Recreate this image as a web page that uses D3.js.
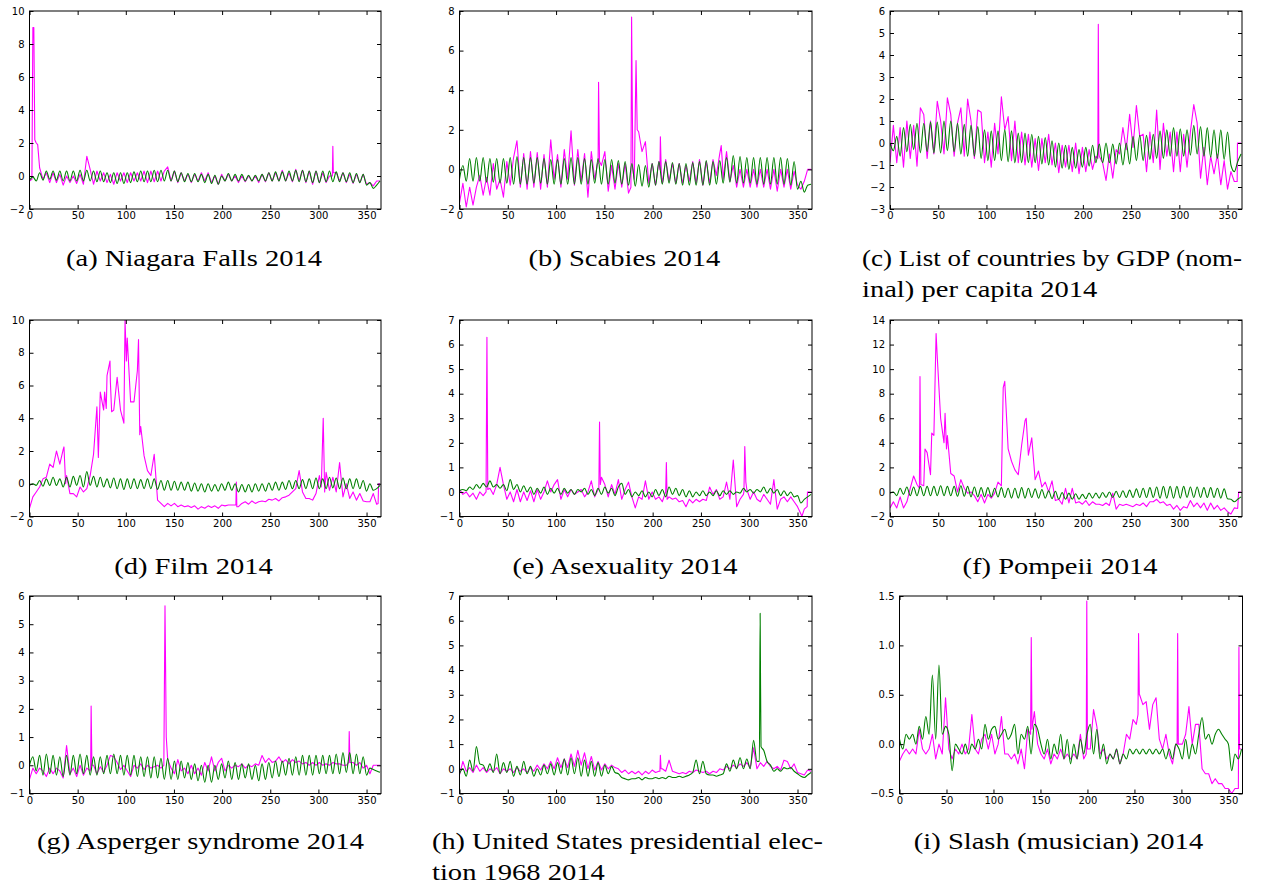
<!DOCTYPE html>
<html><head><meta charset="utf-8">
<script src="https://cdn.jsdelivr.net/npm/d3@7"></script>
<style>body{margin:0;background:#fff;}svg{display:block;}</style>
</head><body>
<svg id="chart" width="1263" height="884"></svg>
<script>
// ---- DATA (base arrays span day 0..364 evenly) ----
const xTicks = [0, 50, 100, 150, 200, 250, 300, 350];
const xDomain = [0, 365];

const magA = [-0.3,9.0,2.0,0.5,-0.2,0.2,-0.4,0.2,-0.4,0.1,
 -0.55,0.0,-0.4,0.0,-0.45,0.1,-0.5,1.2,0.4,-0.5,
 0.3,-0.3,0.2,-0.4,0.1,-0.5,0.2,-0.3,0.2,-0.4,
 0.2,-0.3,0.2,-0.3,0.3,-0.4,0.3,-0.35,0.3,-0.3,
 0.3,0.55,-0.3,0.3,-0.4,0.2,-0.3,0.1,-0.4,0.1,
 -0.3,0.2,-0.3,0.2,-0.4,0.0,-0.5,0.1,-0.3,0.1,
 -0.3,0.0,-0.4,0.0,-0.35,0.0,-0.3,0.0,-0.4,0.1,
 -0.35,0.2,-0.3,0.2,-0.3,0.35,-0.3,0.2,-0.35,0.4,
 -0.3,0.35,-0.4,0.3,-0.5,0.3,-0.4,0.2,-0.4,0.0,
 1.8,0.2,-0.3,0.2,-0.4,0.1,-0.45,0.1,-0.4,0.1,
 -0.5,-0.4,-0.6,-0.3,-0.3];
const magAPeaks = [[2.5,-0.2],[4.5,9.0],[5.5,2.2],[8.5,1.9],[314.5,0.0],[315.5,0.2]];
const grnA = [-0.25,-0.05,-0.3,0.2,-0.25,0.3,-0.2,0.3,-0.25,0.3,
 -0.3,0.3,-0.3,0.3,-0.3,0.35,-0.3,0.35,-0.3,0.3,
 -0.35,0.3,-0.35,0.2,-0.4,0.2,-0.45,0.2,-0.45,0.2,
 -0.4,0.25,-0.35,0.3,-0.35,0.3,-0.35,0.35,-0.35,0.35,
 -0.3,0.35,-0.3,0.3,-0.35,0.2,-0.35,0.15,-0.35,0.15,
 -0.35,0.1,-0.4,0.1,-0.45,0.05,-0.5,0.0,-0.3,0.15,
 -0.3,0.1,-0.3,0.1,-0.3,0.05,-0.3,0.05,-0.3,0.1,
 -0.3,0.2,-0.3,0.25,-0.3,0.25,-0.3,0.3,-0.3,0.35,
 -0.35,0.35,-0.35,0.3,-0.4,0.3,-0.4,0.3,-0.35,0.3,
 -0.35,0.25,-0.35,0.2,-0.35,0.2,-0.4,0.15,-0.4,0.1,
 -0.55,-0.4,-0.75,-0.55,-0.3];

const magB = [-1.7,-0.7,-1.9,-0.9,-1.8,-0.9,-0.3,-1.3,-0.4,-1.3,
 0.3,-1.0,-0.5,-1.4,0.4,-0.8,0.6,1.45,-0.9,0.8,
 -1.0,0.9,-0.9,0.85,-1.0,0.75,-0.9,1.5,-0.5,0.75,
 -0.9,1.0,-0.5,1.95,-0.8,1.0,-0.6,0.8,-1.4,0.9,
 -0.5,0.3,0.2,0.9,-1.1,0.2,-1.0,0.3,-0.9,0.3,
 -1.2,5.9,2.8,1.9,0.9,1.4,-0.7,0.3,-0.8,0.4,
 -0.7,0.5,-0.6,0.3,-0.7,0.3,-0.7,0.2,-0.6,0.4,
 -0.7,0.5,-0.8,0.4,-0.7,0.5,-0.3,0.8,-0.5,0.9,
 -0.6,0.2,-0.9,0.0,-0.9,0.0,-0.9,0.0,-0.9,0.0,
 -0.9,0.0,-1.0,0.0,-1.1,0.0,-0.9,0.0,-1.0,-0.1,
 -0.8,-1.0,-0.6,0.0,0.0];
const magBPeaks = [[143,0.3],[144,4.4],[145,0.4],[177.5,-0.9],[178.2,7.7],[179.5,0.0],[181,-0.5],[182.8,5.5],[184,2.0],[207.5,0.0],[208,1.65],[209,-0.2],[271,1.2],[272,0.5]];
const grnB = [-0.5,0.2,-0.6,0.55,-0.6,0.6,-0.6,0.6,-0.65,0.55,
 -0.65,0.55,-0.7,0.55,-0.7,0.6,-0.75,0.65,-0.75,0.6,
 -0.75,0.6,-0.7,0.6,-0.7,0.55,-0.75,0.5,-0.75,0.5,
 -0.75,0.55,-0.75,0.6,-0.75,0.6,-0.75,0.55,-0.75,0.5,
 -0.7,0.55,-0.75,0.5,-0.75,0.5,-0.7,0.45,-0.75,0.4,
 -0.8,0.3,-0.85,0.25,-0.85,0.2,-0.9,0.3,-0.8,0.4,
 -0.75,0.4,-0.7,0.35,-0.75,0.3,-0.8,0.3,-0.8,0.35,
 -0.8,0.4,-0.8,0.45,-0.8,0.4,-0.75,0.45,-0.7,0.6,
 -0.65,0.7,-0.7,0.65,-0.7,0.6,-0.7,0.6,-0.75,0.6,
 -0.75,0.6,-0.75,0.6,-0.75,0.6,-0.75,0.55,-0.8,0.4,
 -1.0,-0.6,-1.15,-0.8,-0.75];

const magC = [-0.9,0.8,-0.9,0.7,-1.1,1.0,-0.7,0.8,-1.05,1.6,
 1.3,-0.7,1.0,-0.5,1.9,1.0,-0.5,2.05,1.3,-0.6,
 0.9,1.6,-0.6,2.0,1.0,-0.7,1.5,1.4,-0.9,0.5,
 -1.1,0.9,-0.5,2.1,0.6,1.2,-0.8,1.0,-0.9,0.5,
 -1.0,0.4,-1.1,0.2,-1.25,0.2,-0.9,0.4,-1.0,0.0,
 -1.35,-0.1,-1.1,-0.1,-1.3,0.0,-1.4,-0.2,-1.3,-0.3,
 -1.2,-0.6,-0.6,-0.9,-1.7,-0.5,-1.6,-0.3,-0.5,0.7,
 -0.3,1.3,-0.2,1.7,0.3,0.4,-1.3,0.5,-0.9,1.5,
 -1.2,0.9,-0.6,0.5,-1.3,0.5,-1.3,0.4,-1.1,0.5,
 1.75,0.9,-1.6,-0.2,-1.9,-0.6,-1.4,-0.5,-1.9,-0.8,
 -2.1,-1.3,-1.75,0.0,0.0];
const magCPeaks = [[215.5,-0.7],[216,5.4],[216.6,-0.5],[360,-1.75],[360.3,0.0]];
const grnC = [0.0,-0.35,0.3,-0.6,0.7,-0.4,0.85,-0.3,0.9,-0.45,
 0.9,-0.4,0.95,-0.45,0.95,-0.45,1.0,-0.35,1.0,-0.4,
 0.9,-0.5,0.85,-0.6,0.8,-0.6,0.75,-0.7,0.6,-0.8,
 0.55,-0.8,0.55,-0.8,0.6,-0.85,0.55,-0.9,0.45,-0.9,
 0.45,-0.9,0.4,-0.9,0.3,-0.95,0.25,-1.0,0.1,-1.1,
 0.0,-1.15,-0.1,-1.2,-0.2,-1.15,-0.3,-1.1,-0.2,-1.05,
 -0.1,-0.9,-0.05,-0.9,0.0,-0.9,-0.05,-0.95,0.0,-1.0,
 0.0,-0.95,0.3,-0.8,0.35,-0.8,0.35,-0.75,0.4,-0.7,
 0.55,-0.7,0.6,-0.6,0.7,-0.6,0.65,-0.6,0.6,-0.55,
 0.8,-0.5,0.75,-0.6,0.7,-0.65,0.6,-0.7,0.6,-0.75,
 0.5,-1.0,-1.3,-0.85,-0.5];

const magD = [-1.5,-0.8,-0.5,-0.2,0.3,0.4,1.2,1.0,2.0,1.2,
 2.1,0.5,-0.6,-0.6,-0.8,-0.2,-0.5,-0.3,0.5,1.8,
 4.7,5.6,4.5,6.6,6.2,4.5,6.5,4.5,3.7,8.9,
 5.0,5.0,6.9,3.5,1.7,0.8,0.5,1.8,-1.0,-1.2,
 -1.4,-1.2,-1.35,-1.2,-1.4,-1.3,-1.4,-1.35,-1.45,-1.35,
 -1.55,-1.4,-1.5,-1.35,-1.45,-1.35,-1.5,-1.3,-1.35,-1.3,
 -1.3,-1.3,-1.4,-1.2,-1.1,-1.25,-1.05,-1.2,-1.1,-1.05,
 -1.1,-0.95,-1.0,-0.9,-1.05,-0.85,-0.8,-0.7,-0.5,-0.3,
 0.8,-0.5,-0.9,-0.9,-1.0,-0.6,0.5,3.0,0.7,-0.4,
 0.4,-0.5,1.3,-0.8,0.0,-0.9,-0.5,-1.0,-0.6,-1.05,
 -1.1,-1.1,-0.6,-1.25,0.0];
const magDPeaks = [[35.8,2.25],[37.5,0.0],[71.5,1.6],[78,5.6],[79.7,4.6],[83.6,7.5],[85.3,4.4],[99.2,10.0],[100.6,7.5],[113.2,8.8],[114.5,3.0],[214.3,-1.3],[214.8,0.1],[215.3,-1.4],[303,-0.2],[305,4.0],[306.5,-0.5],[362,-1.2],[362.5,0.0]];
const grnD = [-0.1,0.0,-0.1,0.2,-0.15,0.3,-0.1,0.4,-0.1,0.3,
 -0.2,0.4,-0.2,0.45,-0.1,0.5,-0.2,0.75,-0.1,0.45,
 -0.2,0.4,-0.2,0.3,-0.25,0.35,-0.3,0.3,-0.35,0.3,
 -0.3,0.3,-0.3,0.25,-0.3,0.3,-0.3,0.3,-0.35,0.2,
 -0.4,0.2,-0.4,0.15,-0.4,0.1,-0.4,0.1,-0.45,0.05,
 -0.45,0.0,-0.5,0.0,-0.45,-0.05,-0.45,0.0,-0.4,0.1,
 -0.4,0.0,-0.5,-0.05,-0.5,-0.05,-0.5,0.0,-0.45,0.0,
 -0.45,0.05,-0.4,0.1,-0.4,0.1,-0.35,0.2,-0.3,0.2,
 -0.3,0.25,-0.3,0.3,-0.3,0.35,-0.3,0.3,-0.3,0.4,
 -0.25,0.35,-0.3,0.35,-0.3,0.3,-0.3,0.3,-0.3,0.2,
 -0.45,0.0,-0.4,-0.3,-0.1];

const magE = [0.1,-0.1,0.0,-0.2,-0.05,-0.3,0.0,-0.15,3.5,0.15,
 -0.1,0.3,1.0,0.3,-0.3,0.0,-0.4,0.1,-0.4,0.0,
 -0.35,0.05,-0.4,0.1,-0.3,0.0,0.45,0.0,0.3,0.5,
 -0.3,0.1,-0.2,0.1,-0.1,0.0,0.1,-0.2,0.0,0.45,
 -0.2,0.1,0.6,0.3,-0.2,0.3,-0.1,0.5,-0.3,0.1,
 0.4,-0.2,-0.65,-0.2,-0.3,0.45,-0.3,0.0,-0.3,-0.2,
 -0.4,0.0,-0.2,-0.3,-0.25,-0.4,-0.35,-0.6,-0.3,-0.45,
 -0.3,-0.4,-0.3,-0.35,0.2,-0.1,0.1,-0.3,-0.2,0.4,
 -0.3,1.3,-0.6,-0.3,-0.1,0.1,-0.3,0.0,-0.3,-0.4,
 -0.1,-0.3,-0.5,0.5,-0.7,-0.3,-0.2,-0.4,-0.2,-0.4,
 -0.6,-0.9,-0.7,0.0,0.0];
const magEPeaks = [[27.5,0.0],[28.4,6.3],[29.3,0.1],[144.3,0.1],[145,2.85],[145.8,0.3],[213.5,0.0],[214.2,1.2],[215,-0.3],[294.5,0.0],[295.4,1.85],[296.5,0.4],[354.5,-1.0],[360,-0.6],[360.3,0.0]];
const grnE = [0.05,0.1,0.05,0.2,0.1,0.3,0.15,0.35,0.2,0.45,
 0.2,0.3,0.15,0.3,0.05,0.5,0.1,0.3,0.0,0.25,
 0.0,0.2,-0.1,0.15,-0.05,0.2,-0.1,0.15,-0.05,0.15,
 -0.1,0.15,-0.05,0.1,-0.1,0.1,0.0,0.15,-0.1,0.1,
 -0.15,0.15,-0.1,0.2,-0.05,0.15,-0.15,0.2,0.35,-0.1,
 0.1,-0.2,0.0,-0.15,0.05,-0.2,0.0,-0.2,0.1,-0.15,
 0.1,-0.2,0.2,-0.1,0.15,-0.15,0.1,-0.2,0.05,-0.2,
 0.0,-0.15,0.05,-0.15,0.0,-0.15,0.05,-0.15,0.05,-0.1,
 0.05,-0.1,0.0,-0.05,0.15,0.0,0.1,-0.05,0.1,0.0,
 0.2,-0.05,0.15,-0.05,0.1,-0.15,0.05,-0.15,0.0,-0.2,
 -0.15,-0.45,-0.3,-0.2,-0.1];

const magF = [-1.3,-0.8,-1.3,-0.4,-1.3,-0.8,0.3,1.3,0.6,5.5,
 0.5,3.2,1.4,4.6,11.0,6.0,4.0,4.6,1.5,1.3,
 0.0,1.0,0.3,-0.1,0.0,-0.3,-0.8,-0.2,-0.9,-0.2,
 -0.5,-0.1,0.8,0.5,9.0,3.5,2.5,1.8,1.4,3.8,
 5.8,3.0,4.4,1.0,1.7,0.4,0.8,0.0,0.9,-0.7,
 -0.6,-1.0,0.3,-0.9,0.3,-0.9,-0.8,-1.0,-0.7,-1.1,
 -0.8,-1.0,-1.0,-1.1,-0.9,-1.1,-0.1,-1.4,-1.0,-1.1,
 -1.0,-1.1,-1.2,-1.0,-1.1,-0.9,-1.2,-0.8,-0.8,-0.6,
 -0.9,-0.8,-1.1,-1.0,-1.4,-1.1,-1.5,-1.2,-1.3,-0.7,
 -1.2,-0.9,-1.3,-0.9,-1.5,-0.9,-1.4,-1.1,-1.5,-1.3,
 -1.6,-1.8,-1.3,-1.35,0.0];
const magFPeaks = [[30.5,0.3],[31.1,9.4],[32,0.6],[36.3,3.5],[43.3,4.8],[47.8,12.9],[57.1,6.4],[58.6,3.5],[117.4,8.5],[141.2,6.0],[361.5,0.0]];
const grnF = [-0.1,0.0,-0.3,0.3,-0.2,0.4,-0.3,0.4,-0.3,0.45,
 -0.3,0.45,-0.3,0.45,-0.3,0.5,-0.3,0.45,-0.3,0.45,
 -0.35,0.5,-0.35,0.45,-0.4,0.4,-0.4,0.35,-0.4,0.35,
 -0.4,0.3,-0.4,0.35,-0.45,0.3,-0.5,0.3,-0.5,0.35,
 -0.5,0.3,-0.45,0.25,-0.5,0.2,-0.5,0.1,-0.55,0.05,
 -0.6,-0.05,-0.6,-0.1,-0.6,-0.15,-0.6,-0.2,-0.55,-0.1,
 -0.5,-0.1,-0.5,-0.05,-0.45,0.0,-0.45,0.05,-0.45,0.1,
 -0.45,0.15,-0.45,0.25,-0.45,0.3,-0.45,0.35,-0.45,0.4,
 -0.5,0.45,-0.5,0.45,-0.5,0.45,-0.5,0.45,-0.45,0.4,
 -0.45,0.4,-0.45,0.35,-0.45,0.35,-0.45,0.3,-0.5,0.25,
 -0.55,-0.6,-0.8,-0.6,-0.4];

const magG = [-0.5,-0.1,-0.3,-0.1,-0.2,-0.4,-0.1,-0.3,-0.1,-0.2,
 -0.45,0.7,-0.3,-0.1,-0.4,0.0,-0.35,-0.1,-0.2,0.0,
 -0.3,-0.05,-0.25,0.0,0.35,0.3,0.1,-0.15,0.0,-0.2,
 -0.4,0.0,-0.1,0.05,-0.15,0.0,-0.1,-0.05,0.0,-0.1,
 2.4,0.2,-0.1,-0.3,0.2,-0.2,-0.1,-0.3,0.0,-0.3,
 -0.1,-0.35,0.1,-0.2,0.3,-0.2,0.1,0.25,-0.2,0.0,
 -0.1,0.0,-0.05,0.05,-0.1,0.0,-0.05,0.05,0.0,0.35,
 0.1,0.25,0.1,0.15,0.3,0.1,0.2,0.05,0.2,0.1,
 0.15,0.05,0.1,0.0,0.1,0.0,0.1,0.0,0.05,0.0,
 0.1,0.05,0.05,0.0,0.0,0.5,0.1,0.0,0.1,-0.1,
 0.0,-0.3,0.0,0.0,0.0];
const magGPeaks = [[63.5,-0.1],[64,2.1],[64.8,0.0],[139.5,0.0],[140.7,5.65],[142,1.0],[331.5,0.1],[332,1.2],[332.8,0.1]];
const grnG = [0.0,0.3,-0.2,0.35,-0.35,0.4,-0.3,0.35,-0.35,0.3,
 -0.4,0.35,-0.35,0.35,-0.3,0.4,-0.3,0.35,-0.35,0.3,
 -0.35,0.3,-0.3,0.35,-0.3,0.4,-0.3,0.35,-0.35,0.35,
 -0.35,0.35,-0.4,0.3,-0.4,0.3,-0.45,0.3,-0.45,0.25,
 -0.5,0.25,-0.5,0.15,-0.5,0.15,-0.45,0.1,-0.5,0.05,
 -0.55,0.0,-0.6,0.0,-0.6,0.0,-0.5,0.05,-0.45,0.15,
 -0.5,0.1,-0.5,0.05,-0.45,0.05,-0.5,0.0,-0.55,0.05,
 -0.5,0.1,-0.45,0.15,-0.4,0.15,-0.35,0.25,-0.35,0.3,
 -0.35,0.35,-0.35,0.35,-0.35,0.35,-0.3,0.35,-0.3,0.35,
 -0.3,0.4,-0.3,0.45,-0.25,0.45,-0.3,0.4,-0.3,0.3,
 -0.35,-0.1,-0.15,-0.2,-0.25];

const magH = [-0.25,0.3,-0.1,0.05,-0.15,0.15,-0.1,0.05,-0.15,0.0,
 -0.1,0.05,-0.2,0.0,-0.1,0.0,-0.15,0.05,-0.1,0.0,
 -0.15,0.05,-0.1,0.15,-0.05,0.2,0.0,0.3,0.0,0.45,
 0.05,0.4,0.05,0.6,0.1,0.75,0.15,0.65,0.0,0.5,
 -0.05,0.3,-0.05,0.2,0.0,0.15,0.05,0.0,-0.15,-0.05,
 -0.2,-0.1,-0.2,-0.1,-0.25,-0.1,-0.2,-0.05,-0.15,-0.1,
 0.0,-0.1,0.35,-0.1,-0.15,-0.2,-0.15,-0.2,-0.1,-0.15,
 -0.05,-0.1,-0.15,-0.1,-0.2,-0.1,-0.15,0.0,-0.05,0.1,
 0.0,0.15,0.05,0.2,0.1,0.25,0.05,0.85,0.0,0.25,
 0.1,0.3,0.1,0.0,0.1,-0.05,0.35,0.3,0.0,0.2,
 -0.15,-0.2,-0.25,-0.05,-0.1];
const magHPeaks = [[207.5,-0.1],[208,0.55],[208.7,0.0]];
const grnH = [-0.2,0.0,-0.3,0.35,-0.1,0.9,0.2,0.15,-0.1,0.2,
 -0.15,0.6,-0.2,0.25,-0.15,0.3,-0.3,0.1,-0.25,0.3,
 -0.2,0.1,-0.3,0.0,-0.25,0.15,-0.2,0.2,-0.25,0.25,
 -0.2,0.4,-0.25,0.45,-0.2,0.45,-0.3,0.35,-0.3,0.3,
 -0.3,0.25,-0.3,0.15,-0.2,0.1,-0.15,-0.2,-0.35,-0.4,
 -0.45,-0.4,-0.4,-0.35,-0.45,-0.35,-0.4,-0.4,-0.35,-0.4,
 -0.35,-0.4,-0.3,-0.35,-0.35,-0.3,-0.35,-0.3,-0.25,-0.15,
 0.35,-0.2,0.3,-0.2,-0.25,-0.25,-0.3,-0.25,-0.2,0.2,
 -0.1,0.35,0.0,0.45,0.0,0.4,0.0,1.15,0.3,5.1,
 0.75,0.3,0.15,-0.1,0.0,-0.1,0.05,0.0,0.05,-0.1,
 -0.2,-0.3,-0.35,-0.25,-0.15];
const grnHPeaks = [[310.5,0.3],[311.3,6.3],[312.2,0.9]];

const magI = [-0.17,-0.1,-0.05,-0.1,-0.05,-0.1,0.15,-0.05,-0.1,-0.05,
 0.1,-0.15,0.0,-0.1,0.47,-0.05,-0.15,-0.05,-0.1,0.0,
 -0.1,-0.05,0.3,-0.05,-0.1,0.05,0.1,-0.05,0.1,-0.1,
 0.0,0.28,-0.1,-0.1,-0.15,-0.1,-0.2,-0.05,-0.25,0.15,
 0.8,0.33,0.0,-0.1,-0.15,-0.05,-0.2,-0.1,-0.15,-0.05,
 -0.15,-0.1,-0.15,-0.1,-0.15,0.1,-0.15,1.0,-0.05,0.35,
 0.18,-0.1,-0.05,-0.15,-0.1,-0.15,-0.05,-0.2,-0.1,0.1,
 0.05,0.25,0.2,0.5,0.4,0.43,0.15,0.4,0.47,0.05,
 -0.05,0.1,-0.1,-0.2,0.0,0.0,0.0,0.1,0.38,0.0,
 0.2,0.2,-0.25,-0.3,-0.3,-0.4,-0.35,-0.4,-0.4,-0.45,
 -0.45,-0.5,-0.45,-0.45,-0.05];
const magIPeaks = [[139.5,0.1],[140.2,1.08],[141,0.15],[198.7,-0.1],[199.3,1.45],[200,-0.05],[253.8,0.3],[254.4,1.12],[255.2,0.5],[295.4,0.0],[296,1.12],[296.7,0.0],[360.6,-0.45],[361.2,0.98],[361.8,-0.05]];
const grnI = [0.05,-0.05,0.1,0.05,0.1,0.0,0.18,0.05,0.28,0.1,
 0.7,0.05,0.8,0.1,0.18,0.1,-0.27,0.0,-0.05,-0.1,
 0.0,-0.1,0.0,-0.05,0.05,-0.05,0.2,0.05,0.15,0.18,
 0.05,0.1,0.15,0.05,0.1,0.2,-0.1,0.1,0.05,0.18,
 -0.1,0.2,0.15,0.0,-0.1,0.05,-0.15,0.0,-0.1,0.1,
 -0.15,0.05,-0.2,0.0,-0.15,0.05,-0.1,0.1,0.2,-0.1,
 0.15,-0.15,0.0,-0.2,-0.1,-0.15,-0.05,-0.2,-0.1,-0.15,
 -0.05,-0.1,-0.05,-0.1,-0.05,-0.1,-0.05,-0.1,-0.05,-0.1,
 -0.05,-0.15,-0.05,-0.15,0.0,-0.05,-0.15,0.05,-0.15,0.0,
 -0.1,0.1,0.27,0.05,0.1,0.0,0.1,0.15,0.1,0.05,
 0.0,-0.27,-0.1,-0.15,-0.05];

const yTicksA = [-2,0,2,4,6,8,10];
const yTicksB = [-2,0,2,4,6,8];
const yTicksC = [-3,-2,-1,0,1,2,3,4,5,6];
const yTicksD = [-2,0,2,4,6,8,10];
const yTicksE = [-1,0,1,2,3,4,5,6,7];
const yTicksF = [-2,0,2,4,6,8,10,12,14];
const yTicksG = [-1,0,1,2,3,4,5,6];
const yTicksH = [-1,0,1,2,3,4,5,6,7];
const yTicksI = [-0.5,0.0,0.5,1.0,1.5];

const captions = [
  ["(a) Niagara Falls 2014"],
  ["(b) Scabies 2014"],
  ["(c) List of countries by GDP (nom-", "inal) per capita 2014"],
  ["(d) Film 2014"],
  ["(e) Asexuality 2014"],
  ["(f) Pompeii 2014"],
  ["(g) Asperger syndrome 2014"],
  ["(h) United States presidential elec-", "tion 1968 2014"],
  ["(i) Slash (musician) 2014"]
];

// ---- PANEL DEFINITIONS ----
const panels = [
  {mag: magA, magPk: magAPeaks, grn: grnA, grnPk: [], yTicks: yTicksA, fmt: "d"},
  {mag: magB, magPk: magBPeaks, grn: grnB, grnPk: [], yTicks: yTicksB, fmt: "d"},
  {mag: magC, magPk: magCPeaks, grn: grnC, grnPk: [], yTicks: yTicksC, fmt: "d"},
  {mag: magD, magPk: magDPeaks, grn: grnD, grnPk: [], yTicks: yTicksD, fmt: "d"},
  {mag: magE, magPk: magEPeaks, grn: grnE, grnPk: [], yTicks: yTicksE, fmt: "d"},
  {mag: magF, magPk: magFPeaks, grn: grnF, grnPk: [], yTicks: yTicksF, fmt: "d"},
  {mag: magG, magPk: magGPeaks, grn: grnG, grnPk: [], yTicks: yTicksG, fmt: "d"},
  {mag: magH, magPk: magHPeaks, grn: grnH, grnPk: grnHPeaks, yTicks: yTicksH, fmt: "d"},
  {mag: magI, magPk: magIPeaks, grn: grnI, grnPk: [], yTicks: yTicksI, fmt: ".1f"}
];

// ---- LAYOUT ----
const boxes = [
  {x0: 29.5, x1: 381, y0: 11, y1: 209},
  {x0: 459.5, x1: 812, y0: 11, y1: 209},
  {x0: 890, x1: 1242, y0: 11, y1: 209},
  {x0: 29.5, x1: 381, y0: 320, y1: 516.5},
  {x0: 459.5, x1: 812, y0: 320, y1: 516.5},
  {x0: 890, x1: 1242, y0: 320, y1: 516.5},
  {x0: 29.5, x1: 381, y0: 596, y1: 793.5},
  {x0: 459.5, x1: 812, y0: 596, y1: 793.5},
  {x0: 899.5, x1: 1242.5, y0: 596, y1: 793.5}
];
const capPos = [
  {x: 194, y: 265.7, anchor: "middle"},
  {x: 624.5, y: 265.7, anchor: "middle"},
  {x: 862, y: 265.7, anchor: "start", w1: 380},
  {x: 193.5, y: 573.5, anchor: "middle"},
  {x: 625, y: 573.5, anchor: "middle"},
  {x: 1060, y: 573.5, anchor: "middle"},
  {x: 200.5, y: 849, anchor: "middle"},
  {x: 432, y: 849, anchor: "start", w1: 391},
  {x: 1058.5, y: 849, anchor: "middle"}
];
const lineGap = 31;

function toPoints(base, peaks) {
  const n = base.length;
  const pts = base.map((v, i) => [i * 364 / (n - 1), v]);
  peaks.forEach(p => pts.push(p));
  pts.sort((a, b) => a[0] - b[0]);
  return pts;
}

const svg = d3.select("#chart");
const defs = svg.append("defs");

panels.forEach((p, k) => {
  const b = boxes[k];
  const yDom = [p.yTicks[0], p.yTicks[p.yTicks.length - 1]];
  const x = d3.scaleLinear().domain(xDomain).range([b.x0, b.x1]);
  const y = d3.scaleLinear().domain(yDom).range([b.y1, b.y0]);
  const g = svg.append("g");

  defs.append("clipPath").attr("id", "clip" + k)
    .append("rect").attr("x", b.x0).attr("y", b.y0)
    .attr("width", b.x1 - b.x0).attr("height", b.y1 - b.y0);

  const lineM = d3.line().x(d => x(d[0])).y(d => y(d[1]));
  const lineG = d3.line().x(d => x(d[0])).y(d => y(d[1])).curve(d3.curveMonotoneX);
  const plot = g.append("g").attr("clip-path", `url(#clip${k})`);
  plot.append("path").datum(toPoints(p.mag, p.magPk))
    .attr("d", lineM).attr("fill", "none").attr("stroke", "#ff00ff")
    .attr("stroke-width", 1.1).attr("stroke-linejoin", "round");
  plot.append("path").datum(toPoints(p.grn, p.grnPk))
    .attr("d", lineG).attr("fill", "none").attr("stroke", "#008000")
    .attr("stroke-width", 1.1).attr("stroke-linejoin", "round");

  const fmt = d3.format(p.fmt);
  const axStyle = sel => {
    sel.select(".domain").remove();
    sel.selectAll(".tick line").attr("stroke", "#000").attr("stroke-width", 1);
    sel.selectAll("text").attr("font-family", "'DejaVu Sans', sans-serif")
      .attr("font-size", 10).attr("fill", "#000");
  };
  g.append("g").attr("transform", `translate(0,${b.y1})`)
    .call(d3.axisBottom(x).tickValues(xTicks).tickSizeInner(-4).tickSizeOuter(0).tickPadding(3))
    .call(axStyle);
  g.append("g").attr("transform", `translate(0,${b.y0})`)
    .call(d3.axisTop(x).tickValues(xTicks).tickSizeInner(-4).tickSizeOuter(0).tickFormat(""))
    .call(axStyle);
  g.append("g").attr("transform", `translate(${b.x0},0)`)
    .call(d3.axisLeft(y).tickValues(p.yTicks).tickSizeInner(-4).tickSizeOuter(0).tickPadding(5).tickFormat(fmt))
    .call(axStyle);
  g.append("g").attr("transform", `translate(${b.x1},0)`)
    .call(d3.axisRight(y).tickValues(p.yTicks).tickSizeInner(-4).tickSizeOuter(0).tickFormat(""))
    .call(axStyle);

  g.append("rect").attr("x", b.x0).attr("y", b.y0)
    .attr("width", b.x1 - b.x0).attr("height", b.y1 - b.y0)
    .attr("fill", "none").attr("stroke", "#000").attr("stroke-width", 1);
});

// ---- CAPTIONS ----
const capFont = "Liberation Serif";
const capSize = 24;
const probe = svg.append("text").attr("font-family", capFont).attr("font-size", capSize).text(captions[0][0]);
const stretch = 256 / probe.node().getComputedTextLength();
probe.remove();

captions.forEach((lines, k) => {
  const c = capPos[k];
  lines.forEach((txt, j) => {
    const t = svg.append("text")
      .attr("x", c.x).attr("y", c.y + j * lineGap)
      .attr("text-anchor", c.anchor)
      .attr("font-family", capFont).attr("font-size", capSize)
      .attr("fill", "#000").text(txt);
    const nat = t.node().getComputedTextLength();
    const target = (j === 0 && c.w1) ? c.w1 : nat * stretch;
    t.attr("textLength", target).attr("lengthAdjust", "spacingAndGlyphs");
  });
});
</script>
</body></html>
